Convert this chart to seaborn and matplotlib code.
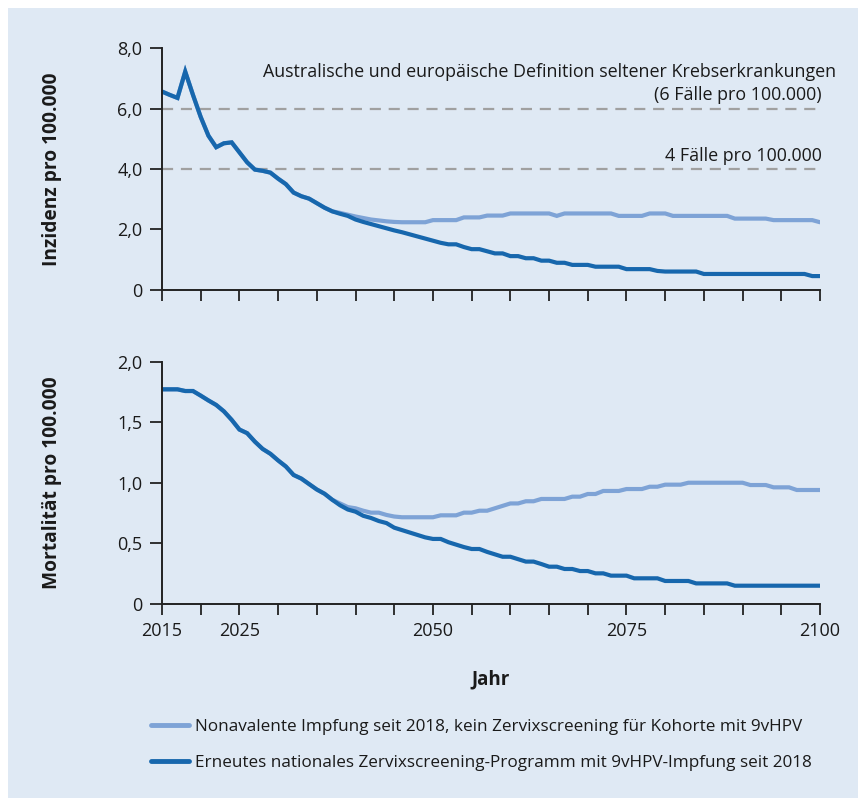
import matplotlib
matplotlib.use("Agg")
import matplotlib.pyplot as plt
from matplotlib.patches import Rectangle
from matplotlib.lines import Line2D
from matplotlib.ticker import FixedLocator, FixedFormatter
import pandas as pd
import seaborn as sns

# ---- data -----------------------------------------------------------------
years = list(range(2015, 2101))

# Incidence per 100,000
inz_nonavalent = [
    6.56, 6.45, 6.35, 7.22, 6.45, 5.72, 5.10, 4.72, 4.85, 4.88,
    4.55, 4.22, 3.98, 3.94, 3.88, 3.68, 3.50, 3.22, 3.10, 3.02,
    2.87, 2.72, 2.60, 2.55, 2.49, 2.43, 2.38, 2.33, 2.30, 2.27,
    2.25, 2.24, 2.24, 2.24, 2.24, 2.31, 2.31, 2.31, 2.31, 2.40,
    2.40, 2.40, 2.46, 2.46, 2.46, 2.53, 2.53, 2.53, 2.53, 2.53,
    2.53, 2.45, 2.53, 2.53, 2.53, 2.53, 2.53, 2.53, 2.53, 2.45,
    2.45, 2.45, 2.45, 2.53, 2.53, 2.53, 2.45, 2.45, 2.45, 2.45,
    2.45, 2.45, 2.45, 2.45, 2.36, 2.36, 2.36, 2.36, 2.36, 2.31,
    2.31, 2.31, 2.31, 2.31, 2.31, 2.24,
]
inz_screening = [
    6.56, 6.45, 6.35, 7.22, 6.45, 5.72, 5.10, 4.72, 4.85, 4.88,
    4.55, 4.22, 3.98, 3.94, 3.88, 3.68, 3.50, 3.22, 3.10, 3.02,
    2.87, 2.72, 2.60, 2.52, 2.45, 2.33, 2.25, 2.18, 2.11, 2.04,
    1.97, 1.91, 1.84, 1.77, 1.70, 1.63, 1.56, 1.51, 1.51, 1.42,
    1.35, 1.35, 1.28, 1.21, 1.21, 1.12, 1.12, 1.05, 1.05, 0.97,
    0.97, 0.90, 0.90, 0.83, 0.83, 0.83, 0.77, 0.77, 0.77, 0.77,
    0.69, 0.69, 0.69, 0.69, 0.63, 0.61, 0.61, 0.61, 0.61, 0.61,
    0.53, 0.53, 0.53, 0.53, 0.53, 0.53, 0.53, 0.53, 0.53, 0.53,
    0.53, 0.53, 0.53, 0.53, 0.46, 0.46,
]

# Mortality per 100,000
mort_nonavalent = [
    1.772, 1.772, 1.772, 1.758, 1.758, 1.720, 1.680, 1.643, 1.590, 1.520,
    1.440, 1.410, 1.340, 1.280, 1.240, 1.185, 1.135, 1.065, 1.035, 0.990,
    0.945, 0.910, 0.860, 0.830, 0.800, 0.790, 0.770, 0.754, 0.754, 0.735,
    0.722, 0.716, 0.716, 0.716, 0.716, 0.716, 0.732, 0.732, 0.732, 0.754,
    0.754, 0.770, 0.770, 0.790, 0.810, 0.830, 0.830, 0.848, 0.848, 0.867,
    0.867, 0.867, 0.867, 0.886, 0.886, 0.908, 0.908, 0.933, 0.933, 0.933,
    0.949, 0.949, 0.949, 0.968, 0.968, 0.985, 0.985, 0.985, 1.001, 1.001,
    1.001, 1.001, 1.001, 1.001, 1.001, 1.001, 0.982, 0.982, 0.982, 0.963,
    0.963, 0.963, 0.941, 0.941, 0.941, 0.941,
]
mort_screening = [
    1.772, 1.772, 1.772, 1.758, 1.758, 1.720, 1.680, 1.643, 1.590, 1.520,
    1.440, 1.410, 1.340, 1.280, 1.240, 1.185, 1.135, 1.065, 1.035, 0.990,
    0.945, 0.910, 0.860, 0.815, 0.780, 0.762, 0.728, 0.710, 0.685, 0.668,
    0.630, 0.610, 0.590, 0.570, 0.550, 0.537, 0.537, 0.510, 0.490, 0.470,
    0.454, 0.454, 0.430, 0.410, 0.390, 0.390, 0.370, 0.350, 0.350, 0.330,
    0.308, 0.308, 0.289, 0.289, 0.272, 0.272, 0.253, 0.253, 0.234, 0.234,
    0.234, 0.212, 0.212, 0.212, 0.212, 0.190, 0.190, 0.190, 0.190, 0.170,
    0.170, 0.170, 0.170, 0.170, 0.151, 0.151, 0.151, 0.151, 0.151, 0.151,
    0.151, 0.151, 0.151, 0.151, 0.151, 0.151,
]

scenarios = [
    "Nonavalente Impfung seit 2018, kein Zervixscreening für Kohorte mit 9vHPV",
    "Erneutes nationales Zervixscreening-Programm mit 9vHPV-Impfung seit 2018",
]
thresholds = [6.0, 4.0]
year_ticks = list(range(2015, 2101, 5))
labelled_years = [2015, 2025, 2050, 2075, 2100]
inz_ticks = [0, 2, 4, 6, 8]
inz_labels = ["0", "2,0", "4,0", "6,0", "8,0"]
mort_ticks = [0, 0.5, 1.0, 1.5, 2.0]
mort_labels = ["0", "0,5", "1,0", "1,5", "2,0"]

# ---- styling --------------------------------------------------------------
BG = "#dfe9f4"
C_LIGHT = "#7ea3d6"
C_DARK = "#1767ad"
TXT = "#1a1a1a"

sns.set_theme(style="ticks")
plt.rcParams["font.family"] = ["Open Sans", "DejaVu Sans"]

W, H = 858, 798
fig = plt.figure(figsize=(W / 100, H / 100), dpi=100, facecolor="white")
fig.patches.append(Rectangle((8 / W, 0), 1, 1 - 8 / H, transform=fig.transFigure,
                             facecolor=BG, edgecolor="none", zorder=-10))

palette = {scenarios[0]: C_LIGHT, scenarios[1]: C_DARK}


def panel(top_px, bottom_px):
    ax = fig.add_axes([162 / W, 1 - bottom_px / H, 658 / W, (bottom_px - top_px) / H])
    ax.set_facecolor("none")
    return ax


def long_frame(a, b):
    return pd.DataFrame({
        "Jahr": years * 2,
        "Wert": a + b,
        "Szenario": [scenarios[0]] * len(years) + [scenarios[1]] * len(years),
    })


def px_text(x, y, s, **kw):
    fig.text(x / W, 1 - y / H, s, fontsize=12.9, color=TXT, **kw)


ax1 = panel(48, 290)
ax2 = panel(361.7, 604)

for ax, df in ((ax1, long_frame(inz_nonavalent, inz_screening)),
               (ax2, long_frame(mort_nonavalent, mort_screening))):
    sns.lineplot(data=df, x="Jahr", y="Wert", hue="Szenario", palette=palette,
                 hue_order=scenarios, linewidth=3.0, legend=False, ax=ax,
                 solid_joinstyle="miter")
    ax.set_xlim(2015, 2100)
    ax.xaxis.set_major_locator(FixedLocator(year_ticks))
    ax.tick_params(axis="both", direction="out", length=9, width=1.3,
                   labelsize=13, colors="#222222", labelcolor=TXT, pad=5)
    ax.tick_params(axis="x", length=8)
    for s in ("top", "right"):
        ax.spines[s].set_visible(False)
    for s in ("left", "bottom"):
        ax.spines[s].set_linewidth(1.4)
        ax.spines[s].set_color("#222222")
    ax.set_xlabel("")

# threshold lines in the incidence panel
for t in thresholds:
    ax1.axhline(t, color="#a0a0a0", linewidth=1.6, dashes=(5, 3.5), zorder=0.5)

ax1.set_ylim(0, 8)
ax1.yaxis.set_major_locator(FixedLocator(inz_ticks))
ax1.yaxis.set_major_formatter(FixedFormatter(inz_labels))
ax1.set_xticklabels([])
ax1.set_ylabel("Inzidenz pro 100.000", fontsize=13.8, fontweight="bold",
               color=TXT, labelpad=40)

ax2.set_ylim(0, 2)
ax2.yaxis.set_major_locator(FixedLocator(mort_ticks))
ax2.yaxis.set_major_formatter(FixedFormatter(mort_labels))
ax2.set_xticklabels([str(y) if y in labelled_years else "" for y in year_ticks])
ax2.set_ylabel("Mortalität pro 100.000", fontsize=13.8, fontweight="bold",
               color=TXT, labelpad=40)
ax2.set_xlabel("Jahr", fontsize=13.5, fontweight="bold", color=TXT, labelpad=21)

# threshold notes
px_text(836, 72, "Australische und europäische Definition seltener Krebserkrankungen",
        ha="right", va="center")
px_text(822, 95, "(6 Fälle pro 100.000)", ha="right", va="center")
px_text(822, 156, "4 Fälle pro 100.000", ha="right", va="center")

# legend
handles = [Line2D([], [], color=palette[s], linewidth=3.5) for s in scenarios]
fig.legend(handles, scenarios, loc="upper left", bbox_to_anchor=(136 / W, 1 - 704 / H),
           frameon=False, handlelength=2.2, handletextpad=0.35,
           labelspacing=1.15, labelcolor=TXT,
           prop={"family": ["Open Sans", "DejaVu Sans"], "size": 12.3})

fig.savefig("out.png", dpi=100, facecolor="white")
